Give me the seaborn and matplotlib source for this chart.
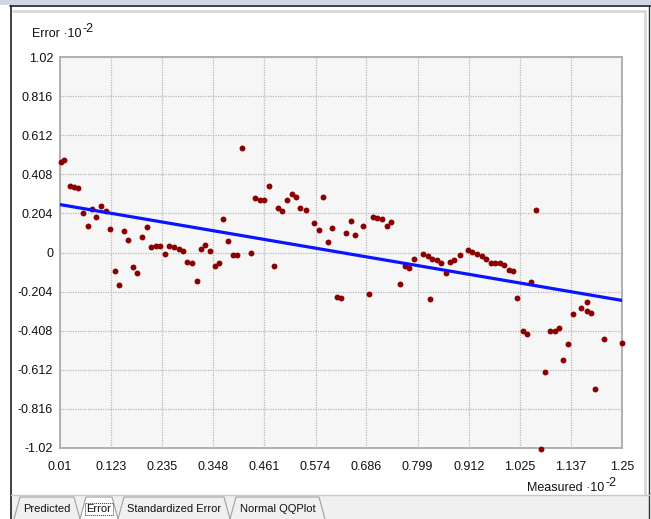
import matplotlib
matplotlib.use("Agg")
import matplotlib.pyplot as plt
import seaborn as sns
import pandas as pd
from matplotlib.lines import Line2D
from matplotlib.patches import Rectangle, Polygon

# ---- data (units of 1e-2) ----
measured = [0.012, 0.019, 0.032, 0.041, 0.050, 0.061, 0.072, 0.081, 0.089, 0.100,
            0.111, 0.120, 0.131, 0.140, 0.151, 0.160, 0.171, 0.180, 0.191, 0.202,
            0.211, 0.222, 0.231, 0.242, 0.250, 0.262, 0.273, 0.281, 0.290, 0.301,
            0.312, 0.321, 0.330, 0.341, 0.352, 0.361, 0.370, 0.381, 0.392, 0.401,
            0.412, 0.431, 0.440, 0.451, 0.460, 0.471, 0.482, 0.491, 0.500, 0.511,
            0.522, 0.531, 0.540, 0.553, 0.570, 0.581, 0.590, 0.601, 0.610, 0.621,
            0.630, 0.641, 0.652, 0.661, 0.679, 0.692, 0.701, 0.709, 0.720, 0.731,
            0.740, 0.760, 0.771, 0.780, 0.791, 0.811, 0.822, 0.826, 0.831, 0.842,
            0.851, 0.862, 0.871, 0.879, 0.893, 0.910, 0.919, 0.930, 0.941, 0.950,
            0.961, 0.970, 0.981, 0.990, 1.001, 1.010, 1.018, 1.032, 1.040, 1.049,
            1.060, 1.071, 1.080, 1.091, 1.102, 1.111, 1.120, 1.131, 1.142, 1.160,
            1.173, 1.173, 1.182, 1.190, 1.210, 1.250]
error = [0.472, 0.483, 0.347, 0.342, 0.336, 0.206, 0.138, 0.227, 0.185, 0.243,
         0.217, 0.123, -0.097, -0.170, 0.112, 0.065, -0.076, -0.107, 0.081, 0.133,
         0.029, 0.034, 0.034, -0.008, 0.034, 0.029, 0.018, 0.008, -0.050, -0.055,
         -0.149, 0.018, 0.039, 0.008, -0.070, -0.055, 0.175, 0.060, -0.013, -0.013,
         0.545, -0.003, 0.284, 0.274, 0.274, 0.347, -0.070, 0.232, 0.217, 0.274,
         0.305, 0.290, 0.232, 0.222, 0.154, 0.117, 0.290, 0.055, 0.128, -0.232,
         -0.237, 0.102, 0.164, 0.091, 0.138, -0.217, 0.185, 0.180, 0.175, 0.138,
         0.159, -0.164, -0.070, -0.081, -0.034, -0.008, -0.018, -0.243, -0.034, -0.039,
         -0.055, -0.107, -0.050, -0.039, -0.013, 0.013, 0.003, -0.008, -0.018, -0.034,
         -0.055, -0.055, -0.055, -0.065, -0.091, -0.097, -0.237, -0.410, -0.425, -0.154,
         0.222, -1.025, -0.623, -0.410, -0.410, -0.394, -0.561, -0.477, -0.321, -0.290,
         -0.258, -0.305, -0.316, -0.712, -0.451, -0.472]
fit_x = [0.01, 1.25]
fit_y = [0.25, -0.25]
x_ticks = [0.01, 0.123, 0.235, 0.348, 0.461, 0.574, 0.686, 0.799, 0.912, 1.025, 1.137, 1.25]
x_tick_labels = ["0.01", "0.123", "0.235", "0.348", "0.461", "0.574", "0.686",
                 "0.799", "0.912", "1.025", "1.137", "1.25"]
y_ticks = [1.02, 0.816, 0.612, 0.408, 0.204, 0, -0.204, -0.408, -0.612, -0.816, -1.02]
y_tick_labels = ["1.02", "0.816", "0.612", "0.408", "0.204", "0", "-0.204", "-0.408",
                 "-0.612", "-0.816", "-1.02"]
tab_names = ["Predicted", "Error", "Standardized Error", "Normal QQPlot"]

sns.set_theme(style="whitegrid")
plt.rcParams['font.family'] = ['Liberation Sans', 'DejaVu Sans']

W, H = 651, 519
fig = plt.figure(figsize=(W / 100, H / 100), dpi=100)
fig.patch.set_facecolor("white")

def fx(px):
    return px / W

def fy(py):
    return 1 - py / H

ax = fig.add_axes([fx(60), fy(448), fx(622) - fx(60), fy(57) - fy(448)])
ax.set_facecolor("#f6f6f6")

df = pd.DataFrame({"Measured": measured, "Error": error})
sns.scatterplot(data=df, x="Measured", y="Error", ax=ax, color="#8b0000",
                s=18, marker="o", edgecolor="#8b0000", linewidth=0, clip_on=False, zorder=3)
fit_df = pd.DataFrame({"x": fit_x, "y": fit_y})
sns.lineplot(data=fit_df, x="x", y="y", ax=ax, color="#0a14ff", linewidth=2.3, zorder=4)

ax.set_xlim(0.01, 1.25)
ax.set_ylim(-1.02, 1.02)
ax.set_xticks(x_ticks)
ax.set_xticklabels(x_tick_labels)
ax.set_yticks(y_ticks)
ax.set_yticklabels(y_tick_labels)
ax.set_xlabel("")
ax.set_ylabel("")
ax.tick_params(axis="both", length=0, labelsize=9, colors="#111111")
ax.tick_params(axis="x", pad=9)
ax.tick_params(axis="y", pad=5)
ax.grid(True, color="#b8b8b8", linestyle=(0, (1, 1)), linewidth=0.9)
for sp in ax.spines.values():
    sp.set_color("#b0b0b0")
    sp.set_linewidth(1.4)
    sp.set_visible(True)

# axis titles
t1 = fig.text(fx(32), fy(37), "Error \u00b710", fontsize=9, color="#111111",
              ha="left", va="baseline")
fig.text(0, 0, "-2", fontsize=9, color="#111111", ha="left", va="bottom",
         transform=matplotlib.transforms.offset_copy(fig.transFigure, fig=fig, x=0, y=0))
fig.texts[-1].remove()
ax.annotate("-2", xy=(1.0, 0.45), xycoords=t1, xytext=(1, 0), textcoords="offset points",
            fontsize=9, color="#111111", ha="left", va="bottom", annotation_clip=False)
t2 = fig.text(fx(604), fy(491), "Measured \u00b710", fontsize=9, color="#111111",
              ha="right", va="baseline")
ax.annotate("-2", xy=(1.0, 0.45), xycoords=t2, xytext=(1, 0), textcoords="offset points",
            fontsize=9, color="#111111", ha="left", va="bottom", annotation_clip=False)

# window frame decoration
fig.add_artist(Rectangle((0, fy(5)), 1, 5 / H, transform=fig.transFigure,
                         facecolor="#cfd8e2", edgecolor="none"))
fig.add_artist(Line2D([fx(10), 1], [fy(5.5), fy(5.5)], transform=fig.transFigure,
                      color="#202020", linewidth=1.2))
fig.add_artist(Line2D([fx(10.5), fx(10.5)], [0, fy(5.5)], transform=fig.transFigure,
                      color="#202020", linewidth=1.2))
fig.add_artist(Line2D([fx(13), fx(645)], [fy(11), fy(11)], transform=fig.transFigure,
                      color="#d8d8d8", linewidth=2))
fig.add_artist(Line2D([fx(645), fx(645)], [fy(11), fy(495)], transform=fig.transFigure,
                      color="#d8d8d8", linewidth=2))
fig.add_artist(Line2D([fx(649), fx(649)], [0, fy(5.5)], transform=fig.transFigure,
                      color="#303030", linewidth=1.0))

# tab bar
fig.add_artist(Rectangle((fx(11), 0), fx(649) - fx(11), fy(495), transform=fig.transFigure,
                         facecolor="#f0f0f0", edgecolor="none"))
fig.add_artist(Line2D([fx(11), fx(649)], [fy(495), fy(495)], transform=fig.transFigure,
                      color="#c8c8c8", linewidth=1.0))
tab_edges = [(14, 80), (80, 118), (118, 230), (230, 325)]
for (a, b), name in zip(tab_edges, tab_names):
    selected = name == "Error"
    poly = Polygon([(fx(a), fy(519)), (fx(a + 6), fy(497)), (fx(b - 6), fy(497)), (fx(b), fy(519))],
                   closed=False, transform=fig.transFigure,
                   facecolor="white" if selected else "#f0f0f0",
                   edgecolor="#a0a0a0", linewidth=0.8)
    fig.add_artist(poly)
    t = fig.text(fx((a + b) / 2), fy(509), name, fontsize=8, color="#111111",
                 ha="center", va="center")
    if selected:
        t.set_bbox(dict(boxstyle="square,pad=0.1", facecolor="none",
                        edgecolor="#333333", linestyle=(0, (1, 1)), linewidth=0.7))

fig.savefig("out.png", dpi=100)
